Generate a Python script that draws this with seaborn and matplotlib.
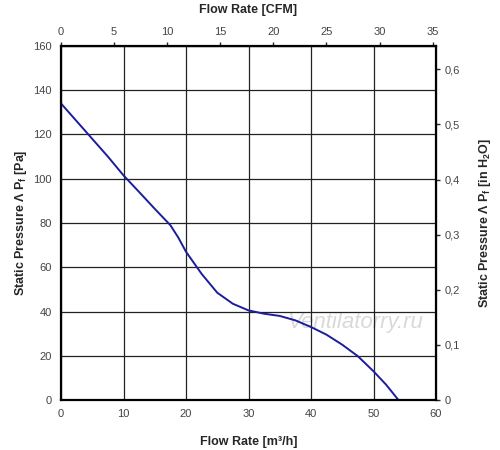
import numpy as np
import pandas as pd
import matplotlib
matplotlib.use("Agg")
import matplotlib.pyplot as plt
import seaborn as sns
from matplotlib.ticker import FuncFormatter, MultipleLocator

# fan curve
flow_m3h = [0, 2.5, 5, 7.5, 10, 12.5, 15, 17.5, 18.75, 20, 22.5, 25, 27.5, 30,
            32.5, 35, 37.5, 40, 42.5, 45, 47.5, 50, 52, 54]
pressure_pa = [134, 126, 118, 110, 101.5, 94, 86.4, 79, 73.5, 67, 57, 48.5, 43.5, 40.5,
               39, 38, 36, 33, 29.5, 25, 19.8, 13, 7, 0]

cfm_ticks = [0, 5, 10, 15, 20, 25, 30, 35]
inh2o_ticks = [0, 0.1, 0.2, 0.3, 0.4, 0.5, 0.6]

M3H_PER_CFM = 1.699
PA_PER_INH2O = 249.09

sns.set_style("white")
plt.rcParams['font.family'] = ['Liberation Sans', 'DejaVu Sans']

df = pd.DataFrame({"flow": flow_m3h, "pressure": pressure_pa})

fig = plt.figure(figsize=(5, 4.5), dpi=100)
ax = fig.add_axes([0.122, 0.111, 0.75, 0.787])

sns.lineplot(data=df, x="flow", y="pressure", ax=ax, color="#1c1c9c", lw=1.4)

ax.set_xlim(0, 60)
ax.set_ylim(0, 160)
ax.xaxis.set_major_locator(MultipleLocator(10))
ax.yaxis.set_major_locator(MultipleLocator(20))
ax.grid(True, color="#222222", lw=0.9)
for s in ax.spines.values():
    s.set_color("black")
    s.set_linewidth(1.6)
ax.tick_params(axis="both", direction="out", length=3, width=1,
               colors="black", labelcolor="#444444", labelsize=8)
ax.set_xlabel("Flow Rate [m³/h]", fontsize=9, fontweight="bold", labelpad=12)
ax.set_ylabel("Static Pressure Λ P$_\\mathregular{f}$ [Pa]", fontsize=9,
              fontweight="bold", labelpad=3)

top = ax.secondary_xaxis("top", functions=(lambda v: v / M3H_PER_CFM,
                                           lambda c: c * M3H_PER_CFM))
top.set_xticks(cfm_ticks)
top.tick_params(direction="out", length=3, width=1, labelcolor="#444444",
                labelsize=8)
top.set_xlabel("Flow Rate [CFM]", fontsize=9, fontweight="bold", labelpad=10)

right = ax.secondary_yaxis("right", functions=(lambda p: p / PA_PER_INH2O,
                                               lambda w: w * PA_PER_INH2O))
right.set_yticks(inh2o_ticks)
right.yaxis.set_major_formatter(
    FuncFormatter(lambda v, pos: "0" if abs(v) < 1e-9 else f"{v:.1f}".replace(".", ",")))
right.tick_params(direction="out", length=3, width=1, labelcolor="#444444",
                  labelsize=8)
right.set_ylabel("Static Pressure Λ P$_\\mathregular{f}$ [in H$_\\mathregular{2}$O]",
                 fontsize=9, fontweight="bold", labelpad=12)

ax.text(47, 35, "Ventilatorry.ru", fontsize=16, style="italic",
        color="#d9d9d9", ha="center", va="center", zorder=0.5)

fig.savefig("out.png", dpi=100)
